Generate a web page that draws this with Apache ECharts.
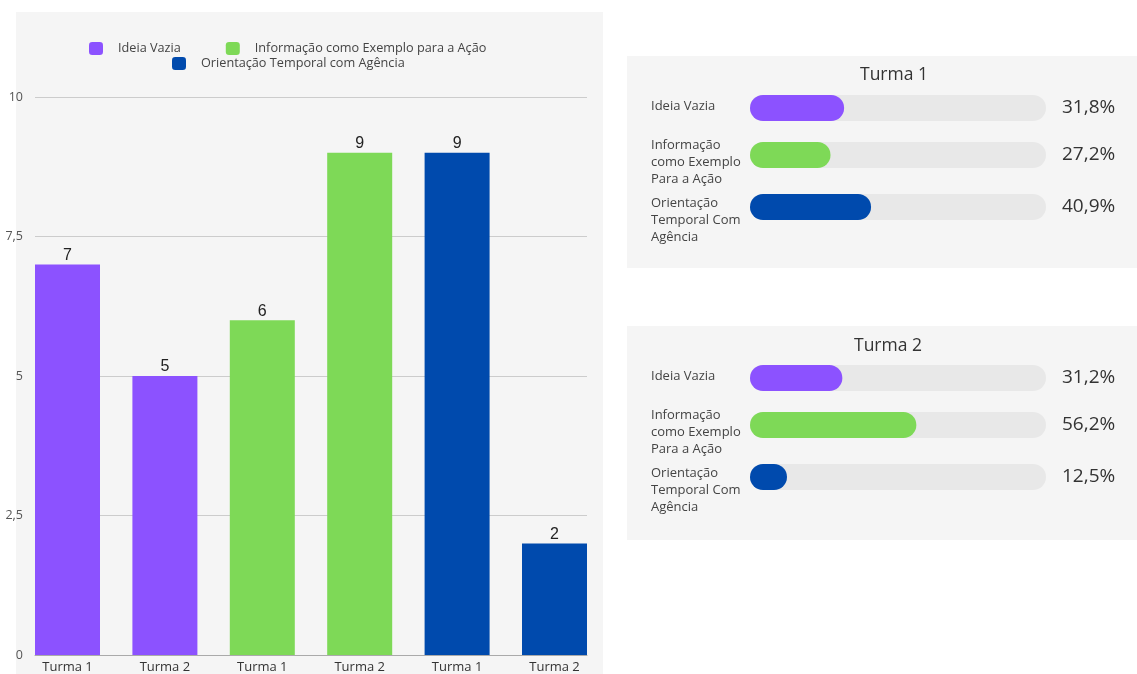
<!DOCTYPE html>
<html>
<head>
<meta charset="utf-8">
<script src="https://cdn.jsdelivr.net/npm/echarts@6/dist/echarts.min.js"></script>
<style>
  html, body { margin: 0; padding: 0; background: #ffffff; }
  #chart { width: 1137px; height: 674px; }
</style>
</head>
<body>
<div id="chart"></div>
<script>
// Bar chart: counts per category and class
const categories = ['Turma 1', 'Turma 2', 'Turma 1', 'Turma 2', 'Turma 1', 'Turma 2'];
const seriesNames = ['Ideia Vazia', 'Informação como Exemplo para a Ação', 'Orientação Temporal com Agência'];
const ideiaVazia = [7, 5];
const informacao = [6, 9];
const orientacao = [9, 2];
const yTicks = [0, 2.5, 5, 7.5, 10];

// Progress panels: share of each category per class (%)
const turmaTitles = ['Turma 1', 'Turma 2'];
const rowLabels = ['Ideia Vazia', 'Informação\ncomo Exemplo\nPara a Ação', 'Orientação\nTemporal Com\nAgência'];
const turma1Pct = [31.8, 27.2, 40.9];
const turma2Pct = [31.2, 56.2, 12.5];

const colors = ['#8c52ff', '#7ed957', '#004aad'];
const FONT = '"Open Sans", sans-serif';

const chart = echarts.init(document.getElementById('chart'), null, { renderer: 'canvas' });

// each category occupies two consecutive slots on the x axis
const groups = [ideiaVazia, informacao, orientacao];
const barSeries = groups.map((vals, g) => {
  const data = categories.map(() => '-');
  vals.forEach((v, k) => { data[g * 2 + k] = v; });
  return {
    name: seriesNames[g],
    type: 'bar',
    xAxisIndex: 0,
    yAxisIndex: 0,
    data: data,
    barWidth: 65,
    barGap: '-100%',
    itemStyle: { color: colors[g] },
    label: {
      show: true, position: 'top', distance: 1,
      fontFamily: '"Liberation Sans", Arial, sans-serif', fontSize: 16, color: '#222'
    }
  };
});

const grids = [
  { left: 18.8, right: 1137 - 603.2, top: 97, bottom: 19 },   // bars
  { left: 35, right: 1137 - 587, top: 97, bottom: 19 }        // value scale and grid lines
];
const xAxes = [
  {
    gridIndex: 0, type: 'category', data: categories,
    axisLine: { show: false }, axisTick: { show: false },
    axisLabel: { fontFamily: FONT, fontSize: 13, color: '#333', margin: 6 }
  },
  {
    gridIndex: 1, type: 'category', data: categories,
    axisLine: { show: true, lineStyle: { color: '#aaa', width: 1 } },
    axisTick: { show: false }, axisLabel: { show: false }
  }
];
const yAxes = [
  { gridIndex: 0, type: 'value', min: yTicks[0], max: yTicks[yTicks.length - 1], show: false },
  {
    gridIndex: 1, type: 'value', min: yTicks[0], max: yTicks[yTicks.length - 1],
    interval: yTicks[1] - yTicks[0],
    axisLine: { show: false }, axisTick: { show: false },
    axisLabel: {
      fontFamily: FONT, fontSize: 12.5, color: '#555', margin: 12,
      formatter: v => String(v).replace('.', ',')
    },
    splitLine: { lineStyle: { color: '#cccccc', width: 1 } }
  }
];
const series = barSeries.slice();

// progress rows: one small grid per track, plus one per row caption
const panelTops = [56, 326];
const rowOffsets = [39, 86, 138];
const captionShift = [-1.5, 7, 13.5];
const noAxisParts = { axisLine: { show: false }, axisTick: { show: false }, splitLine: { show: false } };
[turma1Pct, turma2Pct].forEach((pcts, p) => {
  pcts.forEach((v, r) => {
    const top = panelTops[p] + rowOffsets[r];

    // track with filled share and the percentage on its right
    const gi = grids.length;
    grids.push({ left: 750, right: 1137 - 1046, top: top, height: 26 });
    xAxes.push({ gridIndex: gi, type: 'value', min: 0, max: 100, show: false });
    yAxes.push(Object.assign({
      gridIndex: gi, type: 'category', data: [''], position: 'left', axisLabel: { show: false }
    }, noAxisParts));
    const trackAxis = yAxes.length - 1;
    yAxes.push(Object.assign({
      gridIndex: gi, type: 'category', data: [v.toFixed(1).replace('.', ',') + '%'], position: 'right',
      axisLabel: { align: 'left', margin: 16, fontFamily: FONT, fontSize: 19, color: '#333' }
    }, noAxisParts));
    series.push({
      type: 'bar',
      xAxisIndex: xAxes.length - 1,
      yAxisIndex: trackAxis,
      data: [v],
      barWidth: 26,
      showBackground: true,
      backgroundStyle: { color: '#e8e8e8', borderRadius: 13 },
      itemStyle: { color: colors[r], borderRadius: 13 },
      silent: true
    });

    // row caption to the left of the track
    const ci = grids.length;
    grids.push({ left: 750, right: 1137 - 1046, top: top + captionShift[r], height: 26 });
    xAxes.push({ gridIndex: ci, type: 'value', min: 0, max: 100, show: false });
    yAxes.push(Object.assign({
      gridIndex: ci, type: 'category', data: [rowLabels[r]], position: 'left',
      axisLabel: { align: 'left', margin: 99, fontFamily: FONT, fontSize: 13, lineHeight: 17, color: '#444' }
    }, noAxisParts));
  });
});

const option = {
  backgroundColor: '#ffffff',
  animation: false,
  textStyle: { fontFamily: FONT },
  graphic: [
    { type: 'rect', z: -10, shape: { x: 16, y: 12, width: 587, height: 662 }, style: { fill: '#f5f5f5' } },
    { type: 'rect', z: -10, shape: { x: 627, y: 56, width: 510, height: 212 }, style: { fill: '#f5f5f5' } },
    { type: 'rect', z: -10, shape: { x: 627, y: 326, width: 510, height: 214 }, style: { fill: '#f5f5f5' } }
  ],
  title: [
    { text: turmaTitles[0], left: 860, top: 66, padding: 0, textStyle: { fontFamily: FONT, fontSize: 17.5, fontWeight: 'normal', color: '#333' } },
    { text: turmaTitles[1], left: 854, top: 337, padding: 0, textStyle: { fontFamily: FONT, fontSize: 17.5, fontWeight: 'normal', color: '#333' } }
  ],
  legend: [
    {
      data: [seriesNames[0], seriesNames[1]], left: 89, top: 42, padding: 0,
      icon: 'roundRect', itemWidth: 14, itemHeight: 13, itemGap: 45,
      textStyle: { fontFamily: FONT, fontSize: 12.7, color: '#444', padding: [0, 0, 0, 10] }
    },
    {
      data: [seriesNames[2]], left: 172, top: 57, padding: 0,
      icon: 'roundRect', itemWidth: 14, itemHeight: 13,
      textStyle: { fontFamily: FONT, fontSize: 12.7, color: '#444', padding: [0, 0, 0, 10] }
    }
  ],
  grid: grids,
  xAxis: xAxes,
  yAxis: yAxes,
  series: series
};

chart.setOption(option);
</script>
</body>
</html>
